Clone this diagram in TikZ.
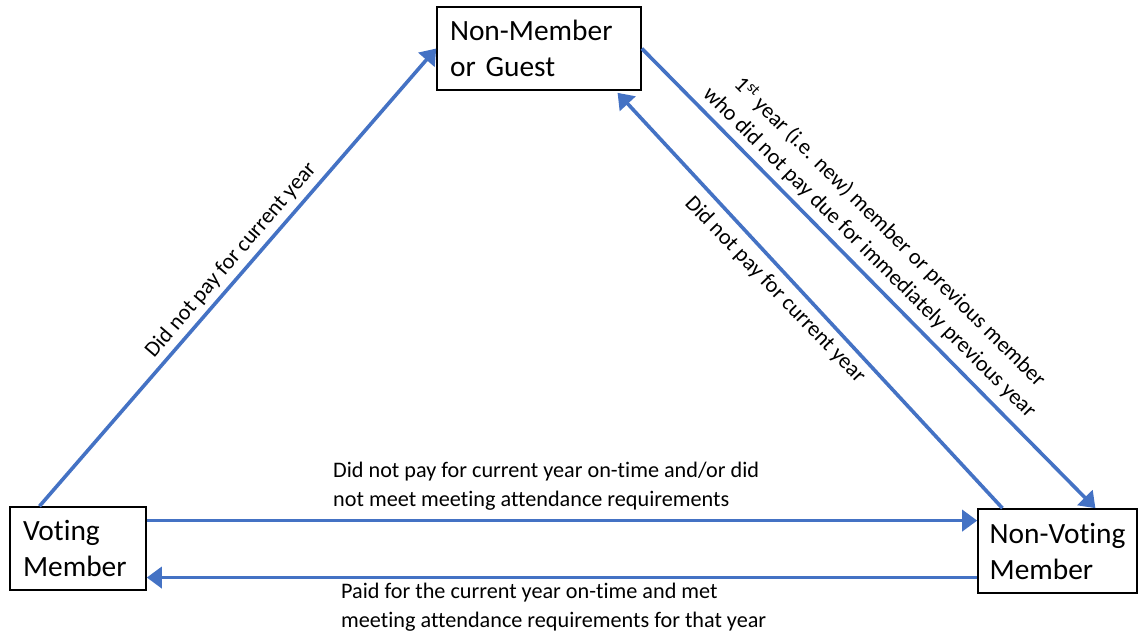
\documentclass[tikz,border=0pt]{standalone}
\usepackage{fontspec}
\setmainfont{Carlito}[Ligatures=CommonOff]
\usetikzlibrary{arrows.meta,calc}
\definecolor{arrowblue}{HTML}{4472C4}
\tikzset{
  statebox/.style={draw=black, line width=1.6pt, fill=white, align=left, inner xsep=13pt, inner ysep=0pt,
    font=\fontsize{29.4}{36}\selectfont},
  conn/.style={draw=arrowblue, line width=3.6pt, -{Triangle[length=15pt,width=21pt]}},
  lbl/.style={font=\fontsize{22.2}{28.5}\selectfont, inner sep=0pt},
}
\begin{document}
\begin{tikzpicture}[x=1pt,y=-1pt]
\useasboundingbox (0,0) rectangle (1139,636);
\node[statebox, minimum width=204pt, minimum height=83pt, text width=178pt] (nm) at (539,48.5) {Non-Member\\or Guest};
\node[statebox, minimum width=136pt, minimum height=83pt, text width=110pt] (v) at (78,548.5) {Voting\\Member};
\node[statebox, minimum width=159pt, minimum height=84pt, inner xsep=0pt] (nv) at (1057.5,551) {Non-Voting\\Member};

\coordinate (a1s) at ($(v.north west)!0.22!(v.north east)$);
\draw[conn] (a1s) -- (nm.west);
\coordinate (a2e) at ($(nv.north west)!0.736!(nv.north east)$);
\draw[conn] (nm.east) -- (a2e);
\coordinate (a3s) at ($(nv.north west)!0.157!(nv.north east)$);
\coordinate (a3e) at ($(nm.south west)!0.882!(nm.south east)$);
\draw[conn] (a3s) -- ($(a3e)+(0,2)$);
\coordinate (a4s) at ($(v.north east)!0.17!(v.south east)$);
\draw[conn] (a4s) -- (a4s -| nv.west);
\coordinate (a5s) at ($(nv.north west)!0.81!(nv.south west)$);
\draw[conn] (a5s) -- (a5s -| v.east);

\node[lbl, rotate=49.3] (l1) at (231,260) {Did not pay for current year};
\node[lbl, rotate=-46] (l3) at (775,290) {Did not pay for current year};
\node[lbl, rotate=-44.8, align=center] (l2) at (880,242) {1\textsuperscript{st} year (i.e. new) member or previous member\\who did not pay due for immediately previous year};
\node[lbl, anchor=west, align=left] (l4) at (333,486) {Did not pay for current year on-time and/or did\\not meet meeting attendance requirements};
\node[lbl, anchor=west, align=left] (l5) at (341,607) {Paid for the current year on-time and met\\meeting attendance requirements for that year};
\end{tikzpicture}
\end{document}
